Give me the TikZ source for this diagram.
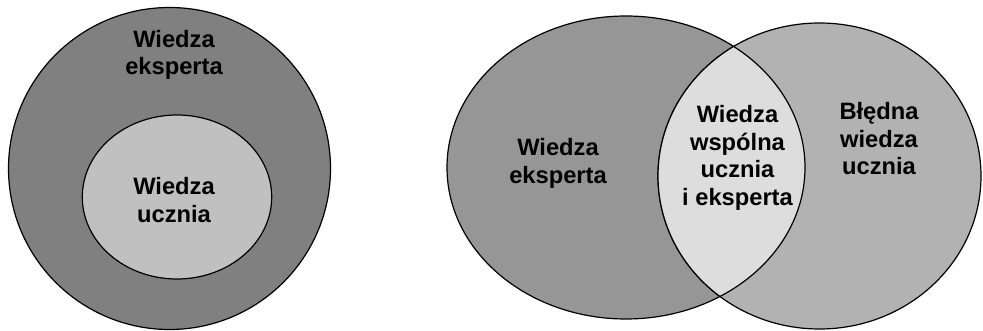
\documentclass[tikz,border=0pt]{standalone}
\usepackage{fontspec}
\setmainfont{Liberation Sans}
\definecolor{gDark}{HTML}{808080}
\definecolor{gInner}{HTML}{C0C0C0}
\definecolor{gLeft}{HTML}{969696}
\definecolor{gRight}{HTML}{B2B2B2}
\definecolor{gLens}{HTML}{DDDDDD}
\tikzset{
  outline/.style={draw=black, line width=1.2pt},
  lbl/.style={align=center, inner sep=0pt, text=black,
    font=\bfseries\fontsize{23.7}{27.5}\selectfont}
}
\begin{document}
\begin{tikzpicture}[x=1pt,y=-1pt]
\useasboundingbox (0,0) rectangle (983,331);
% left diagram
\path[outline, fill=gDark] (169.5,168.5) circle [radius=161];
\path[outline, fill=gInner] (177,197) ellipse [x radius=94.7, y radius=82];
\node[lbl] (outerlbl) at (174,55.1) {Wiedza\\eksperta};
\node[lbl] (innerlbl) at (174,199.8) {Wiedza\\ucznia};
% right diagram
\path[outline, fill=gLeft] (626,167.5) ellipse [x radius=179, y radius=151.5];
\path[outline, fill=gRight] (819.5,176) ellipse [x radius=161.5, y radius=153];
\begin{scope}
  \clip (819.5,176) ellipse [x radius=161.5, y radius=153];
  \path[outline, fill=gLens] (626,167.5) ellipse [x radius=179, y radius=151.5];
\end{scope}
\begin{scope}
  \clip (626,167.5) ellipse [x radius=179, y radius=151.5];
  \path[outline] (819.5,176) ellipse [x radius=161.5, y radius=153];
\end{scope}
\node[lbl] (leftlbl) at (558,163.6) {Wiedza\\eksperta};
\node[lbl] (lenslbl) at (737.5,158.1) {Wiedza\\wspólna\\ucznia\\i eksperta};
\node[lbl] (rightlbl) at (879,139) {Błędna\\wiedza\\ucznia};
\end{tikzpicture}
\end{document}
